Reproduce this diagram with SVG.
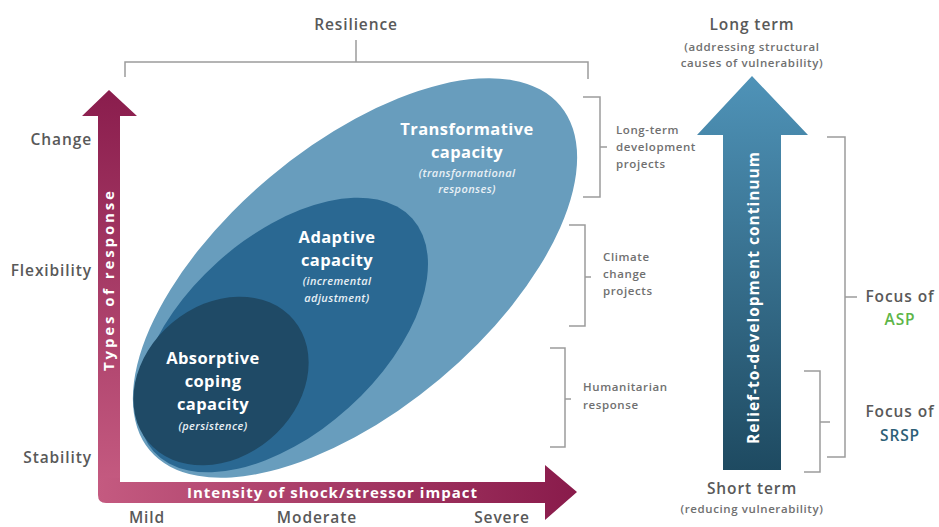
<svg xmlns="http://www.w3.org/2000/svg" width="939" height="527" viewBox="0 0 939 527">
<style>
.lbl{font-family:"Open Sans","Liberation Sans",sans-serif;font-weight:600;fill:#595959;font-size:15.5px;letter-spacing:0.9px}
.sm{font-family:"Open Sans","Liberation Sans",sans-serif;font-weight:600;fill:#707070;font-size:11.5px;letter-spacing:0.6px}
.wt{font-family:"Open Sans","Liberation Sans",sans-serif;font-weight:700;fill:#ffffff;text-anchor:middle}
.tt{font-size:16.5px;letter-spacing:0.4px}
.it{font-family:"Open Sans","Liberation Sans",sans-serif;font-style:italic;font-weight:600;fill:#e8f0f5;font-size:11px;letter-spacing:0.4px;text-anchor:middle}
.br{fill:none;stroke:#9c9c9c;stroke-width:1.5}
.mid{text-anchor:middle}
</style>
<defs>
<linearGradient id="gv" x1="0" y1="0" x2="0" y2="1">
<stop offset="0" stop-color="#8a1d4d"/>
<stop offset="1" stop-color="#c45a80"/>
</linearGradient>
<linearGradient id="gh" x1="0" y1="0" x2="1" y2="0">
<stop offset="0" stop-color="#c45a80"/>
<stop offset="1" stop-color="#891b4b"/>
</linearGradient>
<linearGradient id="gb" x1="0" y1="0" x2="0" y2="1">
<stop offset="0" stop-color="#4f93b8"/>
<stop offset="1" stop-color="#1e4a61"/>
</linearGradient>
</defs>

<g id="resilience">
<text class="lbl mid" x="356" y="30">Resilience</text>
<path class="br" d="M356 40V62M125 77V62H588V79"/>
</g>

<g id="transformative">
<ellipse cx="355" cy="278" rx="268" ry="132" transform="rotate(-40 355 278)" fill="#689dbd"/>
<text class="wt tt" x="467" y="135">Transformative</text>
<text class="wt tt" x="467" y="158">capacity</text>
<text class="it" x="467" y="177">(transformational</text>
<text class="it" x="467" y="193">responses)</text>
</g>

<g id="adaptive">
<ellipse cx="283" cy="335" rx="174" ry="98" transform="rotate(-42 283 335)" fill="#2a6892"/>
<text class="wt tt" x="337" y="243">Adaptive</text>
<text class="wt tt" x="337" y="266">capacity</text>
<text class="it" x="337" y="285">(incremental</text>
<text class="it" x="337" y="302">adjustment)</text>
</g>

<g id="absorptive">
<ellipse cx="221" cy="381" rx="95" ry="76" transform="rotate(-40 221 381)" fill="#1f4a66"/>
<text class="wt tt" x="213" y="364">Absorptive</text>
<text class="wt tt" x="213" y="387">coping</text>
<text class="wt tt" x="213" y="410">capacity</text>
<text class="it" x="213" y="430">(persistence)</text>
</g>

<g id="axis-y">
<path d="M98 116H82L109 90L137 116H120V482H98Z" fill="url(#gv)"/>
<text class="wt" transform="translate(114 281) rotate(-90)" font-size="15" font-weight="600" textLength="180" lengthAdjust="spacing">Types of response</text>
<text class="lbl" x="92" y="145" text-anchor="end">Change</text>
<text class="lbl" x="92" y="276" text-anchor="end">Flexibility</text>
<text class="lbl" x="92" y="463" text-anchor="end">Stability</text>
</g>

<g id="axis-x">
<path d="M98 478V495Q98 503 106 503H545V520L577 492L545 465V482H120V478Z" fill="url(#gh)"/>
<text class="wt" x="332" y="498" font-size="15" font-weight="600" textLength="290" lengthAdjust="spacing">Intensity of shock/stressor impact</text>
<text class="lbl mid" x="147" y="523">Mild</text>
<text class="lbl mid" x="317" y="523">Moderate</text>
<text class="lbl mid" x="502" y="523">Severe</text>
</g>

<g id="bracket-longterm">
<path class="br" d="M583 97H600V197H583M600 147H607"/>
<text class="sm" x="616" y="134">Long-term</text>
<text class="sm" x="616" y="151">development</text>
<text class="sm" x="616" y="168">projects</text>
</g>
<g id="bracket-climate">
<path class="br" d="M569 225H585V326H569M585 277H591"/>
<text class="sm" x="603" y="261">Climate</text>
<text class="sm" x="603" y="278">change</text>
<text class="sm" x="603" y="295">projects</text>
</g>
<g id="bracket-humanitarian">
<path class="br" d="M550 348H565V447H550M565 399H571"/>
<text class="sm" x="583" y="391">Humanitarian</text>
<text class="sm" x="583" y="409">response</text>
</g>

<g id="continuum">
<path d="M723 470V135H697L752 76L808 135H781V470Z" fill="url(#gb)"/>
<text class="wt" transform="translate(759 298) rotate(-90)" font-size="15.5" font-weight="600" textLength="292" lengthAdjust="spacing">Relief-to-development continuum</text>
<text class="lbl mid" x="752" y="30" font-size="16">Long term</text>
<text class="sm mid" x="752" y="51" font-size="12">(addressing structural</text>
<text class="sm mid" x="752" y="67" font-size="12">causes of vulnerability)</text>
<text class="lbl mid" x="752" y="494" font-size="16">Short term</text>
<text class="sm mid" x="752" y="513" font-size="12">(reducing vulnerability)</text>
</g>

<g id="focus-asp">
<path class="br" d="M827 137H845V457H827M845 297H857"/>
<text class="lbl mid" x="900" y="302" font-size="16">Focus of</text>
<text class="lbl mid" x="900" y="325" font-size="16" style="fill:#5db548">ASP</text>
</g>
<g id="focus-srsp">
<path class="br" d="M804 371H820V472H804M820 422H830"/>
<text class="lbl mid" x="900" y="417" font-size="16">Focus of</text>
<text class="lbl mid" x="900" y="441" font-size="16" style="fill:#2d5f77">SRSP</text>
</g>
</svg>
